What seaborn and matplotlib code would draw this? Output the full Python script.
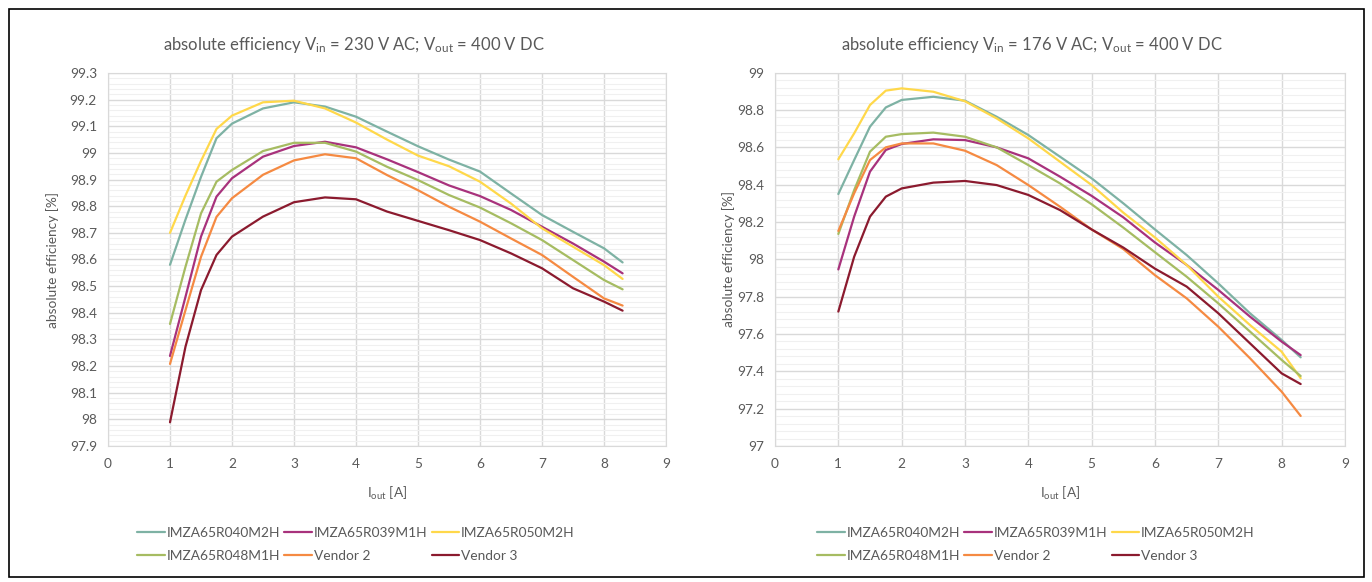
import pandas as pd
import seaborn as sns
import matplotlib.pyplot as plt
from matplotlib.patches import Rectangle
from matplotlib.ticker import MultipleLocator, FuncFormatter

# measured output current points [A]
iout = [1, 1.25, 1.5, 1.75, 2, 2.5, 3, 3.5, 4, 4.5, 5, 5.5, 6, 6.5, 7, 7.5, 8, 8.3]

devices = ["IMZA65R040M2H", "IMZA65R039M1H", "IMZA65R050M2H",
           "IMZA65R048M1H", "Vendor 2", "Vendor 3"]

# Vin = 230 V AC
eff230_r040 = [98.58, 98.75, 98.91, 99.055, 99.11, 99.167, 99.19, 99.174, 99.136, 99.08,
               99.025, 98.975, 98.93, 98.848, 98.767, 98.704, 98.642, 98.589]
eff230_r039 = [98.238, 98.46, 98.686, 98.836, 98.905, 98.986, 99.026, 99.042, 99.021, 98.976,
               98.928, 98.878, 98.838, 98.786, 98.723, 98.66, 98.592, 98.548]
eff230_r050 = [98.70, 98.84, 98.97, 99.09, 99.14, 99.19, 99.196, 99.167, 99.114, 99.05,
               98.99, 98.95, 98.892, 98.81, 98.717, 98.648, 98.579, 98.527]
eff230_r048 = [98.358, 98.573, 98.773, 98.892, 98.936, 99.007, 99.038, 99.038, 99.005, 98.948,
               98.898, 98.842, 98.795, 98.736, 98.673, 98.598, 98.523, 98.488]
eff230_v2 = [98.208, 98.41, 98.61, 98.76, 98.83, 98.918, 98.972, 98.995, 98.98, 98.917,
             98.86, 98.798, 98.742, 98.679, 98.617, 98.535, 98.454, 98.427]
eff230_v3 = [97.989, 98.273, 98.485, 98.617, 98.686, 98.761, 98.815, 98.833, 98.826, 98.78,
             98.745, 98.71, 98.673, 98.623, 98.567, 98.492, 98.442, 98.408]

# Vin = 176 V AC
eff176_r040 = [98.35, 98.532, 98.711, 98.814, 98.854, 98.871, 98.85, 98.764, 98.666, 98.55,
               98.434, 98.30, 98.16, 98.023, 97.871, 97.711, 97.568, 97.475]
eff176_r039 = [97.946, 98.229, 98.47, 98.586, 98.618, 98.643, 98.639, 98.6, 98.541, 98.443,
               98.34, 98.225, 98.09, 97.97, 97.836, 97.693, 97.559, 97.487]
eff176_r050 = [98.536, 98.675, 98.827, 98.904, 98.916, 98.898, 98.847, 98.755, 98.648, 98.523,
               98.398, 98.25, 98.117, 97.97, 97.8, 97.648, 97.505, 97.363]
eff176_r048 = [98.136, 98.371, 98.577, 98.657, 98.671, 98.679, 98.657, 98.6, 98.505, 98.407,
               98.295, 98.17, 98.038, 97.907, 97.764, 97.613, 97.461, 97.375]
eff176_v2 = [98.152, 98.354, 98.532, 98.6, 98.621, 98.621, 98.582, 98.505, 98.398, 98.282,
             98.16, 98.055, 97.915, 97.791, 97.639, 97.47, 97.291, 97.161]
eff176_v3 = [97.72, 98.014, 98.229, 98.336, 98.38, 98.411, 98.42, 98.398, 98.345, 98.264,
             98.16, 98.063, 97.95, 97.854, 97.711, 97.55, 97.389, 97.332]

colors = ["#7EB2A4", "#A8327C", "#FFD84A", "#A6BC62", "#F58A42", "#8B1A2E"]
palette = dict(zip(devices, colors))


def long_df(series):
    rows = []
    for name, vals in zip(devices, series):
        for x, y in zip(iout, vals):
            rows.append({"iout": x, "eff": y, "device": name})
    return pd.DataFrame(rows)


df230 = long_df([eff230_r040, eff230_r039, eff230_r050, eff230_r048, eff230_v2, eff230_v3])
df176 = long_df([eff176_r040, eff176_r039, eff176_r050, eff176_r048, eff176_v2, eff176_v3])

sns.set_style("white")
plt.rcParams["font.family"] = ["Lato", "DejaVu Sans"]
plt.rcParams["mathtext.fontset"] = "custom"
plt.rcParams["mathtext.rm"] = "Lato"
plt.rcParams["mathtext.it"] = "Lato:italic"

txt = "#595959"
W, H = 1372, 582
fig = plt.figure(figsize=(13.72, 5.82), dpi=100)
fig.patches.append(Rectangle((9 / W, 1 - 577 / H), 1355 / W, 568 / H, transform=fig.transFigure,
                             fill=False, edgecolor="black", linewidth=1.2))

ax1 = fig.add_axes([108 / W, 1 - 446 / H, 558 / W, 373 / H])
ax2 = fig.add_axes([775 / W, 1 - 446 / H, 570 / W, 373.3 / H])


def fmt(v, pos):
    return ("%.2f" % v).rstrip("0").rstrip(".")


setups = [
    (ax1, df230, 97.9, 99.3, 0.1, 0.02, "absolute efficiency V$_{\\mathrm{in}}$ = 230 V AC; V$_{\\mathrm{out}}$ = 400 V DC", 354, 356, -0.087),
    (ax2, df176, 97.0, 99.0, 0.2, 0.04, "absolute efficiency V$_{\\mathrm{in}}$ = 176 V AC; V$_{\\mathrm{out}}$ = 400 V DC", 1032, 1036, -0.07),
]

for ax, df, ylo, yhi, major, minor, title, tx, lx, ylx in setups:
    sns.lineplot(data=df, x="iout", y="eff", hue="device", palette=palette,
                 linewidth=1.6, ax=ax, sort=False)
    ax.set_xlim(0, 9)
    ax.set_ylim(ylo, yhi)
    ax.xaxis.set_major_locator(MultipleLocator(1))
    ax.yaxis.set_major_locator(MultipleLocator(major))
    ax.yaxis.set_minor_locator(MultipleLocator(minor))
    ax.yaxis.set_major_formatter(FuncFormatter(fmt))
    ax.grid(which="major", color="#D9D9D9", linewidth=1.0)
    ax.grid(which="minor", axis="y", color="#F0F0F0", linewidth=0.8)
    ax.set_axisbelow(True)
    for s in ax.spines.values():
        s.set_color("#D9D9D9")
    ax.tick_params(which="both", length=0, labelsize=9.8, labelcolor=txt)
    ax.tick_params(axis="y", pad=8)
    ax.tick_params(axis="x", pad=9)
    ax.set_xlabel("I$_{\\mathrm{out}}$ [A]", fontsize=9.8, color=txt)
    ax.set_ylabel("absolute efficiency [%]", fontsize=9.8, color=txt)
    ax.xaxis.set_label_coords(0.5, -0.105)
    ax.yaxis.set_label_coords(ylx, 0.5)
    fig.text(tx / W, 1 - 45 / H, title, ha="center", va="center", fontsize=12, color=txt)

    handles, labels = ax.get_legend_handles_labels()
    ax.get_legend().remove()
    order = [0, 3, 1, 4, 2, 5]
    fig.legend([handles[i] for i in order], [labels[i] for i in order], ncol=3,
               loc="upper center", bbox_to_anchor=(lx / W, 1 - 520 / H), frameon=False,
               fontsize=9.9, labelcolor=txt, handlelength=2.0, handletextpad=0.15,
               columnspacing=0.3, labelspacing=0.8, borderpad=0)

fig.savefig("out.png", dpi=100)
